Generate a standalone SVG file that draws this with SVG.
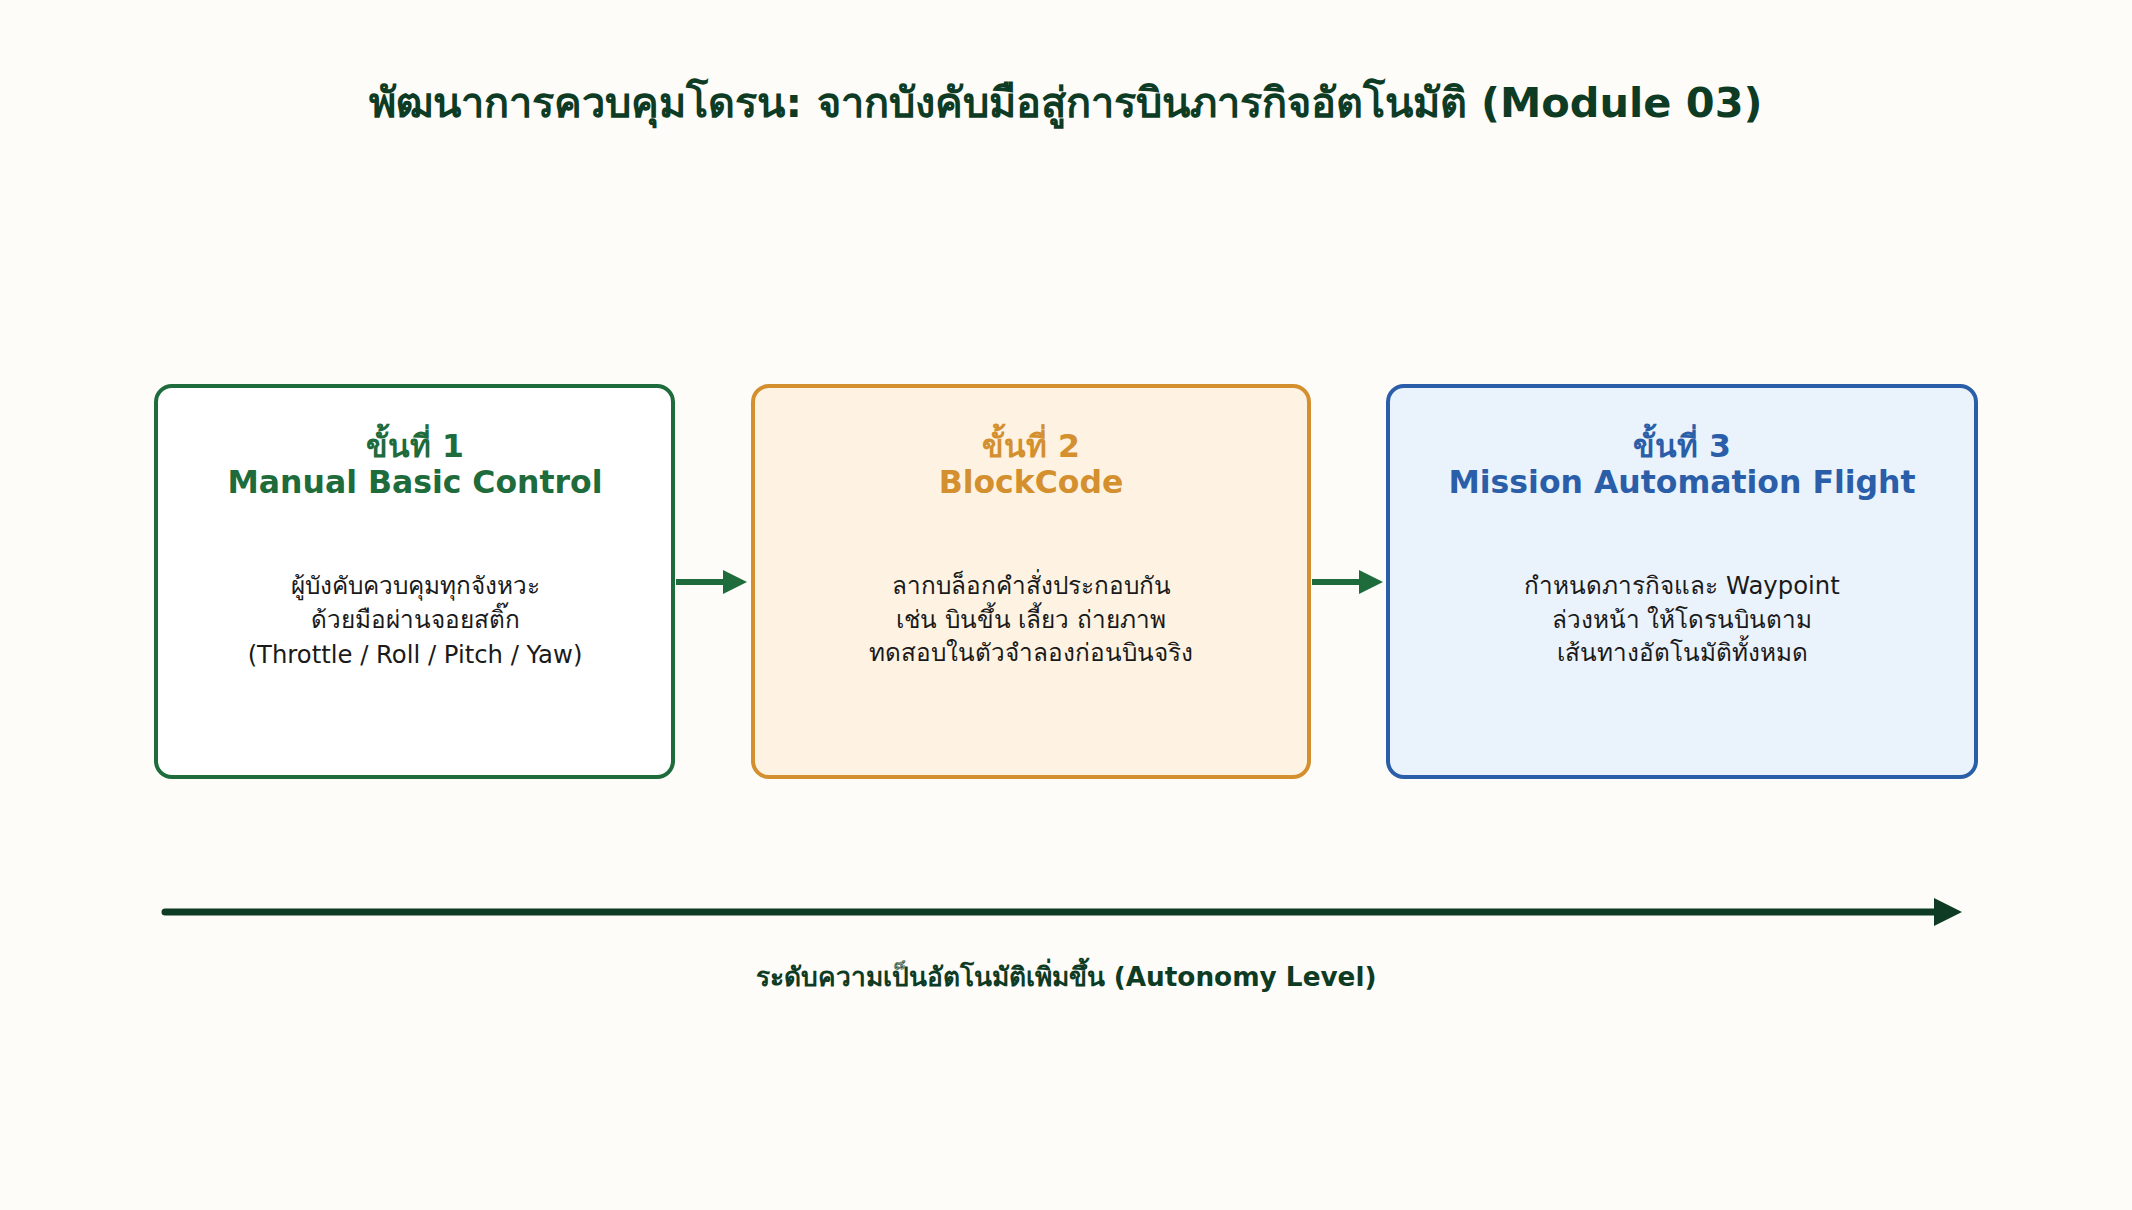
<svg xmlns="http://www.w3.org/2000/svg" width="2132" height="1210" viewBox="0 0 2132 1210">
<style>
text{font-family:"DejaVu Sans","Noto Sans",sans-serif;text-anchor:middle}
.t{font-size:41.5px;font-weight:bold;fill:#0d3b24}
.h{font-size:31.5px;font-weight:bold}
.b{font-size:24.3px;fill:#1a1a1a}
.box{stroke-width:4}
.con{stroke:#1e6b3c;stroke-width:6;fill:none}
</style>
<defs>
<marker id="a" markerWidth="4" markerHeight="4" refX="2" refY="2" orient="auto" markerUnits="strokeWidth"><path d="M0,0 L4,2 L0,4 Z" fill="#1e6b3c"/></marker>
<marker id="a2" markerWidth="4" markerHeight="4" refX="2" refY="2" orient="auto" markerUnits="strokeWidth"><path d="M0,0 L4,2 L0,4 Z" fill="#0d3b24"/></marker>
</defs>
<rect width="2132" height="1210" fill="#fdfcf9"/>
<text class="t" x="1066" y="117">พัฒนาการควบคุมโดรน: จากบังคับมือสู่การบินภารกิจอัตโนมัติ (Module 03)</text>
<g id="n1">
<rect class="box" x="156" y="386" width="517" height="391" rx="16" fill="#ffffff" stroke="#1e6b3c"/>
<text class="h" x="415" y="457" fill="#1e6b3c">ขั้นที่ 1</text>
<text class="h" x="415" y="493" fill="#1e6b3c">Manual Basic Control</text>
<text class="b" x="415" y="594">ผู้บังคับควบคุมทุกจังหวะ</text>
<text class="b" x="415" y="628">ด้วยมือผ่านจอยสติ๊ก</text>
<text class="b" x="415" y="663">(Throttle / Roll / Pitch / Yaw)</text>
</g>
<g id="n2">
<rect class="box" x="753" y="386" width="556" height="391" rx="16" fill="#fef3e2" stroke="#d48f2e"/>
<text class="h" x="1031" y="457" fill="#d48f2e">ขั้นที่ 2</text>
<text class="h" x="1031" y="493" fill="#d48f2e">BlockCode</text>
<text class="b" x="1031" y="594">ลากบล็อกคำสั่งประกอบกัน</text>
<text class="b" x="1031" y="628">เช่น บินขึ้น เลี้ยว ถ่ายภาพ</text>
<text class="b" x="1031" y="661">ทดสอบในตัวจำลองก่อนบินจริง</text>
</g>
<g id="n3">
<rect class="box" x="1388" y="386" width="588" height="391" rx="16" fill="#eaf2fc" stroke="#2b5ea8"/>
<text class="h" x="1682" y="457" fill="#2b5ea8">ขั้นที่ 3</text>
<text class="h" x="1682" y="493" fill="#2b5ea8">Mission Automation Flight</text>
<text class="b" x="1682" y="594">กำหนดภารกิจและ Waypoint</text>
<text class="b" x="1682" y="628">ล่วงหน้า ให้โดรนบินตาม</text>
<text class="b" x="1682" y="661">เส้นทางอัตโนมัติทั้งหมด</text>
</g>
<g id="connectors">
<line class="con" x1="676" y1="582" x2="735" y2="582" marker-end="url(#a)"/>
<line class="con" x1="1312" y1="582" x2="1371" y2="582" marker-end="url(#a)"/>
<line x1="165" y1="912" x2="1948" y2="912" stroke="#0d3b24" stroke-width="7" stroke-linecap="round" marker-end="url(#a2)"/>
</g>
<text x="1066" y="986" style="font-size:26.3px;font-weight:bold;fill:#0d3b24">ระดับความเป็นอัตโนมัติเพิ่มขึ้น (Autonomy Level)</text>
</svg>
